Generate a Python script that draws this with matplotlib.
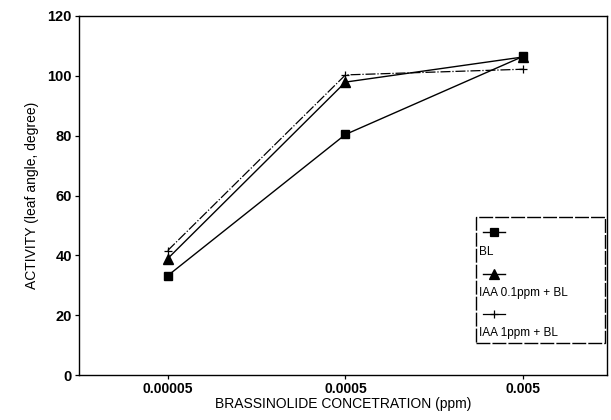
import numpy as np
import matplotlib.pyplot as plt
from matplotlib.lines import Line2D
from matplotlib.patches import Rectangle

plt.rcParams['font.family'] = ['Liberation Sans', 'DejaVu Sans']

# brassinolide dose (ppm) vs leaf angle
conc_labels = ['0.00005', '0.0005', '0.005']
bl = [33.2, 80.4, 106.5]
iaa_01 = [38.9, 97.9, 106.3]
iaa_1 = [41.6, 100.3, 102.2]
series_names = ['BL', 'IAA 0.1ppm + BL', 'IAA 1ppm + BL']

x = np.arange(len(conc_labels))

fig = plt.figure(figsize=(6.11, 4.2), dpi=100)
ax = fig.add_axes([0.129, 0.107, 0.864, 0.855])

ax.plot(x, bl, color='black', lw=1.0, marker='s', ms=6)
ax.plot(x, iaa_01, color='black', lw=1.0, marker='^', ms=7)
ax.plot(x, iaa_1, color='black', lw=0.9, ls=(0, (8, 1.5, 1, 1.5)), marker='+', ms=6, mew=0.9)

ax.set_xlim(-0.5, 2.47)
ax.set_ylim(0, 120)
ax.set_xticks(x)
ax.set_xticklabels(conc_labels, fontweight='bold', fontsize=10)
ax.set_yticks(np.arange(0, 121, 20))
ax.set_yticklabels([str(v) for v in range(0, 121, 20)], fontweight='bold', fontsize=10.5)
ax.tick_params(direction='out', length=3, width=0.9, pad=2)
for s in ax.spines.values():
    s.set_linewidth(1.0)

ax.set_xlabel('BRASSINOLIDE CONCETRATION (ppm)', fontsize=10, labelpad=1)
ax.set_ylabel('ACTIVITY (leaf angle, degree)', fontsize=10, labelpad=6)

# legend box: handle drawn above each label
ax.add_patch(Rectangle((0.752, 0.09), 0.245, 0.35, transform=ax.transAxes,
                       fill=False, lw=1.0, ls=(0, (10, 1.5)), color='black'))
markers = [('s', 6, '-', 1.0), ('^', 7, '-', 1.0), ('+', 6, '-', 0.9)]
hy = [0.397, 0.282, 0.170]
for (mk, ms, ls, lw), yy, name in zip(markers, hy, series_names):
    ax.add_line(Line2D([0.765, 0.808], [yy, yy], transform=ax.transAxes,
                       color='black', ls=ls, lw=lw))
    ax.add_line(Line2D([0.7865], [yy], transform=ax.transAxes, color='black',
                       marker=mk, ms=ms, ls='none', mew=0.9))
    ax.text(0.758, yy - 0.053, name, transform=ax.transAxes, fontsize=8.5,
            va='center', ha='left')

fig.savefig('out.png', dpi=100)
